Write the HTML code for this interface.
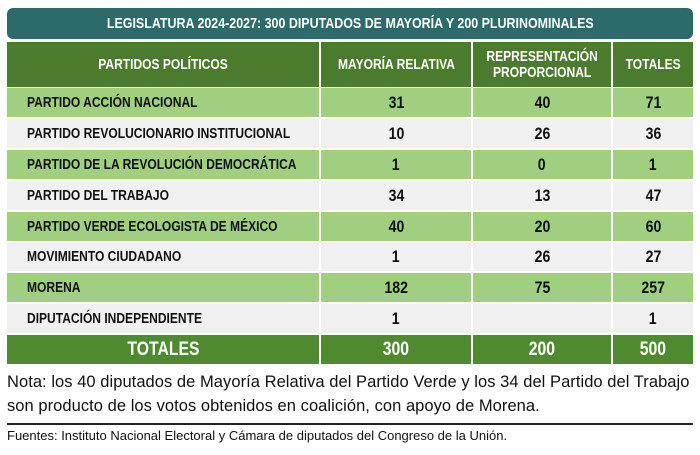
<!DOCTYPE html><html><head><meta charset="utf-8"><style>
body{margin:0;width:700px;height:455px;background:#fff;position:relative;overflow:hidden;font-family:"Liberation Sans",sans-serif}
.t{position:absolute;left:7px;top:8px;width:686px;height:31px;background:#2d6b6a;border-radius:6px;color:#fff;font-weight:bold;font-size:15px;text-align:center;line-height:31px}
.s{display:inline-block;transform:scaleX(0.83);white-space:nowrap}
.sl{display:inline-block;transform:scaleX(0.83);transform-origin:left center;white-space:nowrap}
.c{position:absolute;display:flex;align-items:center;justify-content:center;font-weight:bold;color:#111;box-sizing:border-box}
.h{background:#4b7b2c;color:#fff;font-size:14.5px;line-height:16px;text-align:center}
.g{background:#9fcf7f}.w{background:#f0f0f0}
.f{background:#4e8a2f;color:#fff;font-size:19px}
.n{justify-content:flex-start;padding-left:20px;font-size:14.5px}
.v{font-size:17px}
.note{position:absolute;left:7px;top:370px;font-size:16.5px;letter-spacing:0.05px;line-height:24px;color:#111;white-space:nowrap}
.line{position:absolute;left:7px;top:423px;width:686px;height:2px;background:#222}
.src{position:absolute;left:7px;top:428px;font-size:13px;color:#111;white-space:nowrap}
</style></head><body>
<div class="t"><span class="s">LEGISLATURA 2024-2027: 300 DIPUTADOS DE MAYORÍA Y 200 PLURINOMINALES</span></div>
<div id="tb"></div>
<div class="note">Nota: los 40 diputados de Mayoría Relativa del Partido Verde y los 34 del Partido del Trabajo<br>son producto de los votos obtenidos en coalición, con apoyo de Morena.</div>
<div class="line"></div>
<div class="src">Fuentes: Instituto Nacional Electoral y Cámara de diputados del Congreso de la Unión.</div>
<script>
var cols=[[7,312],[321,150],[473,138],[613,80]];
var H='';
function cell(x,y,w,h,cls,txt,left){H+='<div class="c '+cls+'" style="left:'+x+'px;top:'+y+'px;width:'+w+'px;height:'+h+'px"><span class="'+(left?'sl':'s')+'">'+txt+'</span></div>';}
var hd=['PARTIDOS POLÍTICOS','MAYORÍA RELATIVA','REPRESENTACIÓN<br>PROPORCIONAL','TOTALES'];
hd.forEach(function(t,i){cell(cols[i][0],42,cols[i][1],45,'h',t);});
var rows=[['PARTIDO ACCIÓN NACIONAL','31','40','71'],['PARTIDO REVOLUCIONARIO INSTITUCIONAL','10','26','36'],['PARTIDO DE LA REVOLUCIÓN DEMOCRÁTICA','1','0','1'],['PARTIDO DEL TRABAJO','34','13','47'],['PARTIDO VERDE ECOLOGISTA DE MÉXICO','40','20','60'],['MOVIMIENTO CIUDADANO','1','26','27'],['MORENA','182','75','257'],['DIPUTACIÓN INDEPENDIENTE','1','','1']];
rows.forEach(function(r,j){var y=Math.round(88+j*30.9),h=Math.round(88+(j+1)*30.9)-y-2;var bg=j%2?'w':'g';
r.forEach(function(t,i){cell(cols[i][0],y,cols[i][1],h,bg+(i?' v':' n'),t,i==0);});});
['TOTALES','300','200','500'].forEach(function(t,i){cell(cols[i][0],335,cols[i][1],29,'f',t);});
document.getElementById('tb').innerHTML=H;
</script>
</body></html>
